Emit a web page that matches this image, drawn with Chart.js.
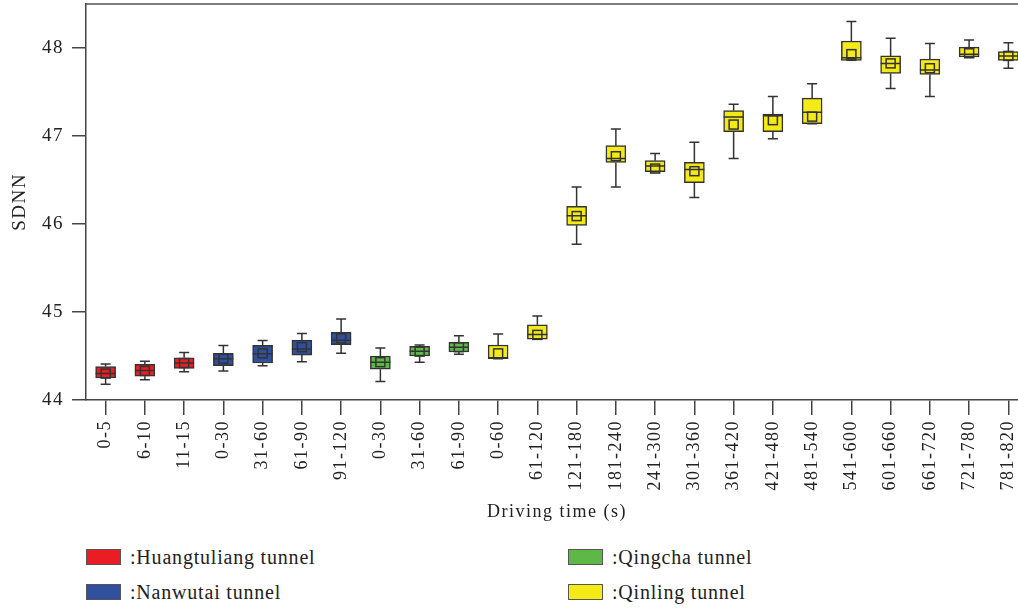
<!DOCTYPE html>
<html>
<head>
<meta charset="utf-8">
<script src="https://cdn.jsdelivr.net/npm/chart.js@4/dist/chart.umd.min.js"></script>
<style>
  html, body { margin: 0; padding: 0; background: #fff; overflow: hidden; width: 1018px; height: 610px; }
  #wrap { position: relative; width: 1018px; height: 610px; overflow: hidden; }
  #chart { position: absolute; left: 0; top: 0; }
  .lg { position: absolute; font-family: "Liberation Serif", "DejaVu Serif", serif; font-size: 20px; letter-spacing: 0.8px; color: #222; display: flex; align-items: center; white-space: nowrap; }
  .lg .sw { width: 33px; height: 14px; border: 1px solid #555; margin-right: 9px; box-sizing: content-box; }
</style>
</head>
<body>
<div id="wrap">
  <canvas id="chart" width="1030" height="530"></canvas>
  <div id="legend"></div>
</div>
<script>
// Driving-time windows (s) for each box
const categories = ['0-5','6-10','11-15','0-30','31-60','61-90','91-120','0-30','31-60','61-90','0-60','61-120',
  '121-180','181-240','241-300','301-360','361-420','421-480','481-540','541-600','601-660','661-720','721-780','781-820'];

// Tunnel each window belongs to (index into tunnelNames)
const tunnelNames = [':Huangtuliang tunnel', ':Nanwutai tunnel', ':Qingcha tunnel', ':Qinling tunnel'];
const tunnelColors = ['#ec1c24', '#2f4f9f', '#5db847', '#f4ea16'];
const tunnelOf = [0,0,0,1,1,1,1,2,2,2,3,3,3,3,3,3,3,3,3,3,3,3,3,3];

// SDNN box statistics
const whiskerMin = [44.18,44.23,44.32,44.33,44.39,44.435,44.53,44.21,44.43,44.52,44.47,44.69,
  45.77,46.42,46.595,46.30,46.745,46.97,47.14,47.86,47.54,47.45,47.90,47.77];
const q1 = [44.25,44.27,44.36,44.39,44.42,44.51,44.63,44.35,44.50,44.545,44.47,44.69,
  45.985,46.70,46.595,46.47,47.05,47.05,47.14,47.86,47.71,47.70,47.90,47.86];
const q3 = [44.38,44.405,44.48,44.53,44.62,44.68,44.77,44.50,44.61,44.655,44.625,44.855,
  46.20,46.89,46.72,46.70,47.29,47.25,47.43,48.08,47.91,47.875,48.01,47.96];
const whiskerMax = [44.41,44.44,44.54,44.62,44.675,44.755,44.92,44.59,44.625,44.73,44.75,44.955,
  46.42,47.08,46.80,46.93,47.36,47.45,47.595,48.30,48.11,48.05,48.09,48.06];
const median = [44.30,44.335,44.42,44.47,44.525,44.58,44.68,44.43,44.555,44.60,44.48,44.745,
  46.095,46.745,46.66,46.62,47.215,47.23,47.27,47.89,47.825,47.75,47.93,47.91];
const mean = [44.30,44.33,44.42,44.47,44.53,44.60,44.70,44.43,44.55,44.60,44.53,44.74,
  46.09,46.77,46.63,46.60,47.13,47.18,47.22,47.93,47.825,47.77,47.94,47.91];

// y-axis range and tick values
const yMin = 44, yMax = 48.5;
const yTicks = [44, 45, 46, 47, 48];

const SERIF = '"Liberation Serif", "DejaVu Serif", serif';
const INK = '#333';

// Whiskers, medians, means and the top frame line
const boxExtras = {
  id: 'boxExtras',
  afterDatasetsDraw(chart) {
    const { ctx, scales: { x, y }, chartArea } = chart;
    ctx.save();
    ctx.strokeStyle = INK;
    ctx.lineWidth = 1.5;
    const capHalf = 5, boxHalf = 10, meanHalf = 4.5;
    categories.forEach((c, i) => {
      const cx = x.getPixelForValue(i);
      const yLo = y.getPixelForValue(whiskerMin[i]);
      const yQ1 = y.getPixelForValue(q1[i]);
      const yQ3 = y.getPixelForValue(q3[i]);
      const yHi = y.getPixelForValue(whiskerMax[i]);
      ctx.beginPath();
      ctx.moveTo(cx, yQ3); ctx.lineTo(cx, yHi);
      ctx.moveTo(cx - capHalf, yHi); ctx.lineTo(cx + capHalf, yHi);
      ctx.moveTo(cx, yQ1); ctx.lineTo(cx, yLo);
      ctx.moveTo(cx - capHalf, yLo); ctx.lineTo(cx + capHalf, yLo);
      const ym = y.getPixelForValue(median[i]);
      ctx.moveTo(cx - boxHalf, ym); ctx.lineTo(cx + boxHalf, ym);
      ctx.stroke();
      const ya = y.getPixelForValue(mean[i]);
      ctx.strokeRect(cx - meanHalf, ya - meanHalf, meanHalf * 2, meanHalf * 2);
    });
    ctx.strokeStyle = '#555';
    ctx.beginPath();
    ctx.moveTo(chartArea.left, chartArea.top);
    ctx.lineTo(chartArea.right, chartArea.top);
    ctx.stroke();
    ctx.restore();
  }
};

// Slightly open letter spacing for all canvas text
const spacing = {
  id: 'spacing',
  beforeDraw(chart) { chart.ctx.letterSpacing = '1.5px'; }
};

new Chart(document.getElementById('chart'), {
  type: 'bar',
  data: {
    labels: categories,
    datasets: [{
      label: 'SDNN',
      data: categories.map((c, i) => [q1[i], q3[i]]),
      backgroundColor: tunnelOf.map(t => tunnelColors[t]),
      borderColor: INK,
      borderWidth: 1.5,
      borderSkipped: false,
      barThickness: 20
    }]
  },
  options: {
    responsive: false,
    animation: false,
    devicePixelRatio: 1,
    layout: { padding: { left: 0, top: 4, right: 2, bottom: 0 } },
    plugins: { legend: { display: false }, tooltip: { enabled: false } },
    scales: {
      x: {
        afterFit(s) { s.height = 130; s.paddingLeft = 0; s.paddingRight = 0; },
        grid: { offset: false, drawOnChartArea: false, drawTicks: true, tickLength: 15, color: '#444', lineWidth: 1.5 },
        border: { color: '#444', width: 1.5 },
        ticks: { autoSkip: false, minRotation: 90, maxRotation: 90, padding: 5, color: '#222',
                 font: { family: SERIF, size: 18 } },
        title: { display: true, text: 'Driving time (s)', color: '#222',
                 font: { family: SERIF, size: 18 }, padding: { top: 0, bottom: 7 } }
      },
      y: {
        min: yMin, max: yMax,
        afterFit(s) { s.width = 86; s.paddingTop = 0; s.paddingBottom = 0; },
        afterBuildTicks(s) { s.ticks = yTicks.map(v => ({ value: v })); },
        grid: { drawOnChartArea: false, drawTicks: true, tickLength: 14, color: '#444', lineWidth: 1.5 },
        border: { color: '#444', width: 1.5 },
        ticks: { padding: 8, color: '#222', font: { family: SERIF, size: 19 } },
        title: { display: true, text: 'SDNN', color: '#222',
                 font: { family: SERIF, size: 19 }, padding: { top: 9, bottom: 0 } }
      }
    }
  },
  plugins: [spacing, boxExtras]
});

// Legend, two columns
const legendPos = [[86, 557], [86, 592], [568, 557], [568, 592]];
const legend = document.getElementById('legend');
tunnelNames.forEach((name, t) => {
  const d = document.createElement('div');
  d.className = 'lg';
  d.style.left = legendPos[t][0] + 'px';
  d.style.top = (legendPos[t][1] - 12) + 'px';
  d.style.height = '24px';
  const sw = document.createElement('span');
  sw.className = 'sw';
  sw.style.background = tunnelColors[t];
  const tx = document.createElement('span');
  tx.textContent = name;
  d.appendChild(sw); d.appendChild(tx);
  legend.appendChild(d);
});
</script>
</body>
</html>
